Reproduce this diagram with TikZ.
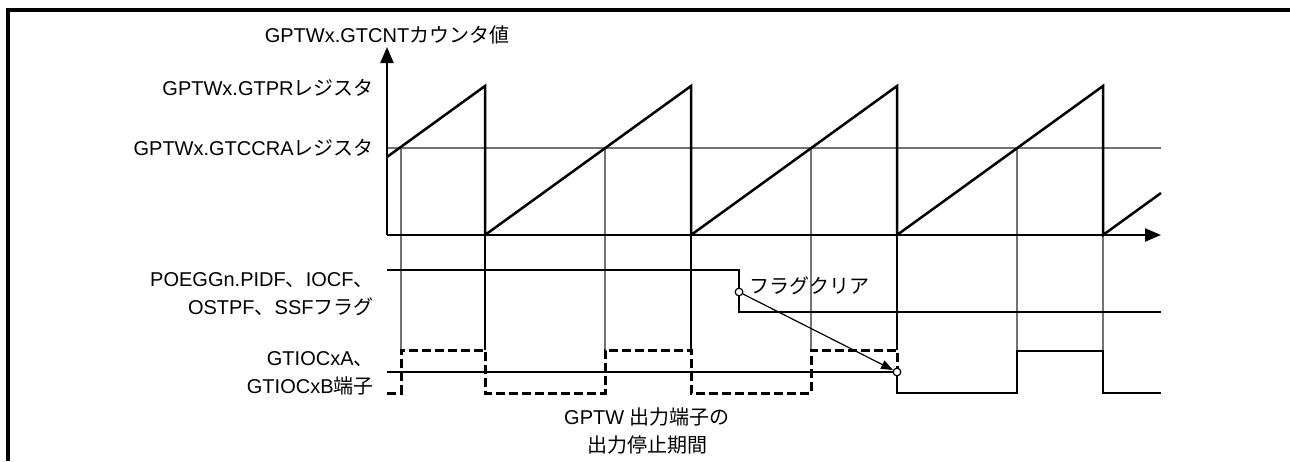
\documentclass[tikz,border=0pt]{standalone}
\usepackage{fontspec}
\setmainfont{Liberation Sans}
\newfontfamily\jp{Noto Sans CJK JP}
\usetikzlibrary{arrows.meta,positioning}

\begin{document}
\begin{tikzpicture}[x=0.5pt,y=-0.5pt,
  lbl/.style={inner sep=0pt,font=\fontsize{10}{14}\selectfont,align=right,anchor=east},
  sig/.style={line width=1.25pt},
  dsig/.style={line width=1.5pt,dash pattern=on 4.5pt off 2pt},
  guide/.style={line width=0.6pt,color=black!55},
  axis/.style={line width=1.1pt,-{Triangle[width=6.5pt,length=8pt]}},
  dot/.style={circle,draw,fill=white,inner sep=0pt,minimum size=3.8pt,line width=0.6pt}
]
  \useasboundingbox (0,0) rectangle (1290,461);
  \draw[line width=1.6pt] (8,461) -- (8,10) -- (1290,10);

  % guide lines
  \draw[guide] (387,148) -- (1161,148);
  \foreach \x in {401,605,811,1017}
    \draw[guide] (\x,148) -- (\x,350);
  \foreach \x in {485,691,897}
    \draw[line width=0.6pt] (\x,235) -- (\x,350);
  \draw[guide] (1103,235) -- (1103,351);

  % axes
  \draw[axis] (387,235) -- (387,47);
  \draw[axis] (387,235) -- (1161,235);

  % counter
  \draw[sig] (387,157) -- (485,86) -- (485,235) -- (691,86) -- (691,235)
    -- (897,86) -- (897,235) -- (1103,86) -- (1103,235) -- (1161,193);

  % flag
  \draw[sig] (387,270) -- (739,270) -- (739,312) -- (1161,312);

  % output pins
  \draw[dsig] (387,393) -- (401,393) -- (401,350) -- (485,350) -- (485,393)
    -- (605,393) -- (605,350) -- (691,350) -- (691,393) -- (811,393)
    -- (811,350) -- (897,350) -- (897,372);
  \draw[sig] (387,372) -- (897,372) -- (897,393) -- (1017,393) -- (1017,351)
    -- (1103,351) -- (1103,393) -- (1161,393);

  \node[dot] (clr) at (739,292) {};
  \node[dot] (stp) at (897,372) {};
  \draw[line width=0.6pt,-{Triangle[width=4.5pt,length=6pt]}] (clr) -- (stp);

  % labels
  \node[lbl,anchor=center] (cnt) at (387,35) {GPTWx.GTCNT{\jp カウンタ値}};
  \node[lbl] (pr) at (374,88) {GPTWx.GTPR{\jp レジスタ}};
  \node[lbl] (ccra) at (374,148) {GPTWx.GTCCRA{\jp レジスタ}};
  \node[lbl] (flag) at (374,294) {POEGGn.PIDF{\jp 、}IOCF{\jp 、}\\OSTPF{\jp 、}SSF{\jp フラグ}};
  \node[lbl] (pin) at (374,373) {GTIOCxA{\jp 、}\\GTIOCxB{\jp 端子}};
  \node[lbl,anchor=west] (clrtxt) at (749,286) {\jp フラグクリア};
  \node[lbl,anchor=center,align=center] (stop) at (647,431) {GPTW {\jp 出力端子の}\\{\jp 出力停止期間}};
\end{tikzpicture}
\end{document}
